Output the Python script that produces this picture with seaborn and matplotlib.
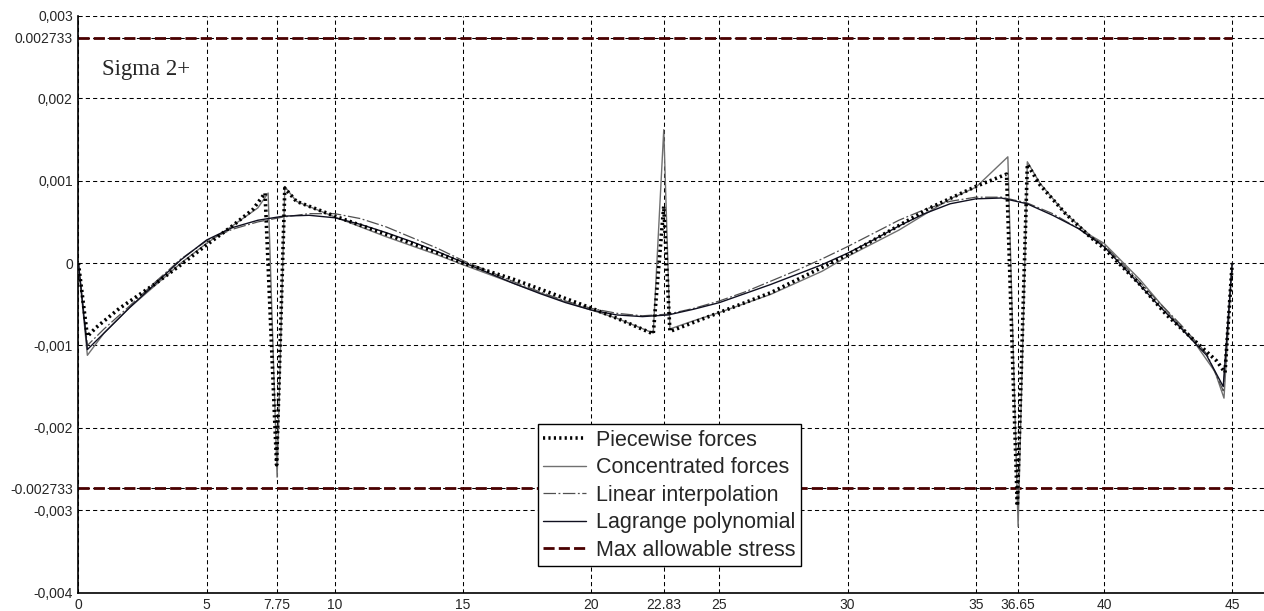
import numpy as np
import pandas as pd
import matplotlib
matplotlib.use("Agg")
import matplotlib.pyplot as plt
from matplotlib.lines import Line2D
import seaborn as sns

# stress values below are in units of 1e-3
x_piecewise = [0, 0.35, 0.7, 1.6, 3, 4, 5, 6, 6.8, 7.28, 7.73, 8.05, 8.5, 10, 12, 13.71, 15, 17,
               19.95, 21, 22.42, 22.83, 23.07, 25, 27, 30, 33.21, 35, 36.2, 36.62, 37.01, 37.5,
               38.5, 39.45, 40, 41.4, 42.44, 44.4, 44.72, 45]
piecewise = [0, -0.89, -0.78, -0.55, -0.25, -0.02, 0.22, 0.45, 0.65, 0.85, -2.45, 0.91, 0.75,
             0.57, 0.35, 0.16, 0.0, -0.2, -0.54, -0.67, -0.86, 0.69, -0.83, -0.6, -0.36, 0.1,
             0.67, 0.93, 1.08, -2.95, 1.2, 0.95, 0.6, 0.32, 0.18, -0.26, -0.63, -1.19, -1.33, 0]

x_concentrated = [0, 0.35, 1, 2, 3, 4, 5, 6, 7, 7.4, 7.75, 8.05, 8.5, 10, 12, 14, 15, 17, 19, 20,
                  21, 22.42, 22.83, 23.07, 24, 25, 27, 29, 30, 32, 34, 35, 36.25, 36.65, 37.01,
                  37.5, 38.5, 39.45, 40, 41.4, 42.44, 43.5, 44.33, 44.68, 45]
concentrated = [0, -1.12, -0.85, -0.54, -0.27, 0.0, 0.24, 0.45, 0.67, 0.85, -2.6, 0.93, 0.75,
                0.56, 0.32, 0.1, -0.02, -0.25, -0.47, -0.57, -0.67, -0.85, 1.62, -0.8, -0.7,
                -0.6, -0.38, -0.1, 0.08, 0.4, 0.78, 0.92, 1.29, -3.2, 1.23, 0.97, 0.6, 0.34,
                0.24, -0.2, -0.58, -0.95, -1.32, -1.64, 0]

x_smooth = [0, 0.35, 1, 2, 3, 4, 5, 6, 7, 8, 9, 10, 11, 12, 13, 14, 15, 16, 17, 18, 19, 20, 21,
            22, 23, 24, 25, 26, 27, 28, 29, 30, 31, 32, 33, 34, 35, 36, 37, 38, 39, 40, 41, 42,
            43, 44, 44.65, 45]
linear_interp = [0, -1.0, -0.8, -0.52, -0.23, 0.05, 0.27, 0.41, 0.5, 0.56, 0.6, 0.6, 0.54, 0.44,
                 0.31, 0.18, 0.03, -0.1, -0.23, -0.35, -0.46, -0.55, -0.61, -0.64, -0.62, -0.55,
                 -0.46, -0.35, -0.22, -0.09, 0.05, 0.2, 0.36, 0.52, 0.65, 0.75, 0.8, 0.8, 0.73,
                 0.6, 0.42, 0.22, -0.1, -0.43, -0.75, -1.1, -1.55, 0]
lagrange = [0, -1.05, -0.85, -0.54, -0.25, 0.04, 0.28, 0.43, 0.52, 0.57, 0.58, 0.55, 0.47, 0.37,
            0.26, 0.14, 0.01, -0.12, -0.25, -0.37, -0.48, -0.57, -0.63, -0.65, -0.63, -0.56,
            -0.48, -0.37, -0.26, -0.14, -0.02, 0.12, 0.28, 0.45, 0.6, 0.72, 0.78, 0.79, 0.72,
            0.58, 0.42, 0.2, -0.13, -0.47, -0.79, -1.12, -1.5, 0]

max_stress = 0.002733
x_ticks = [0, 5, 7.75, 10, 15, 20, 22.83, 25, 30, 35, 36.65, 40, 45]
x_ticklabels = ["0", "5", "7.75", "10", "15", "20", "22.83", "25", "30", "35", "36.65", "40", "45"]
y_ticks = [0.003, 0.002733, 0.002, 0.001, 0, -0.001, -0.002, -0.002733, -0.003, -0.004]
y_ticklabels = ["0,003", "0.002733", "0,002", "0,001", "0", "-0,001", "-0,002", "-0.002733",
                "-0,003", "-0,004"]


def to_frame(x, y):
    return pd.DataFrame({"x": x, "y": np.array(y) * 1e-3})


sns.set_style("white")
plt.rcParams['font.family'] = ['Liberation Sans', 'DejaVu Sans']

fig = plt.figure(figsize=(12.64, 6.11), dpi=100)
ax = fig.add_axes([78.4 / 1264, 18.5 / 611, 1 - 78.4 / 1264, 576.5 / 611])

# allowable stress limits
ax.plot([0, 45], [max_stress, max_stress], color="#4a0000", lw=2, dashes=(4, 1.5), zorder=2)
ax.plot([0, 45], [-max_stress, -max_stress], color="#4a0000", lw=2, dashes=(4, 1.5), zorder=2)

sns.lineplot(data=to_frame(x_concentrated, concentrated), x="x", y="y", ax=ax, estimator=None,
             color="#707070", lw=1.0, zorder=3)
sns.lineplot(data=to_frame(x_smooth, linear_interp), x="x", y="y", ax=ax, estimator=None,
             color="#505050", lw=0.9, zorder=3)
ax.lines[-1].set_dashes((10, 2, 1.5, 2))
sns.lineplot(data=to_frame(x_smooth, lagrange), x="x", y="y", ax=ax, estimator=None,
             color="#101020", lw=1.0, zorder=4)
sns.lineplot(data=to_frame(x_piecewise, piecewise), x="x", y="y", ax=ax, estimator=None,
             color="black", lw=2.6, zorder=5)
ax.lines[-1].set_dashes((0.6, 0.9))

ax.set_xlim(0, (1264 - 78.4) / 25.64)
ax.set_ylim(-0.004, 0.003)
ax.set_xticks(x_ticks)
ax.set_xticklabels(x_ticklabels)
ax.set_yticks(y_ticks)
ax.set_yticklabels(y_ticklabels)
ax.set_xlabel("")
ax.set_ylabel("")
ax.grid(True, color="black", lw=0.75, linestyle=(0, (4, 3)))
ax.set_axisbelow(True)
ax.tick_params(axis="x", direction="in", length=10, width=1, labelsize=10, pad=4)
ax.tick_params(axis="y", direction="in", length=7, width=1, labelsize=10, pad=4)
for s in ["top", "right"]:
    ax.spines[s].set_visible(False)
for s in ["left", "bottom"]:
    ax.spines[s].set_color("black")
    ax.spines[s].set_linewidth(1.2)

ax.text(0.92, 0.00235, "Sigma 2+", family="Liberation Serif", fontsize=16.5, va="center")

handles = [
    Line2D([], [], color="black", lw=2.6, dashes=(0.6, 0.9)),
    Line2D([], [], color="#707070", lw=1.0),
    Line2D([], [], color="#505050", lw=0.9, dashes=(10, 2, 1.5, 2)),
    Line2D([], [], color="#101020", lw=1.0),
    Line2D([], [], color="#4a0000", lw=2, dashes=(4, 1.5)),
]
labels = ["Piecewise forces", "Concentrated forces", "Linear interpolation",
          "Lagrange polynomial", "Max allowable stress"]
leg = ax.legend(handles, labels, loc="lower left", bbox_to_anchor=(0.3877, 0.046),
                fontsize=15.5, frameon=True, fancybox=False, framealpha=1,
                edgecolor="black", handlelength=2.0, handletextpad=0.45,
                labelspacing=0.3, borderpad=0.25, borderaxespad=0)
leg.get_frame().set_linewidth(1.0)

fig.savefig("out.png", dpi=100)
